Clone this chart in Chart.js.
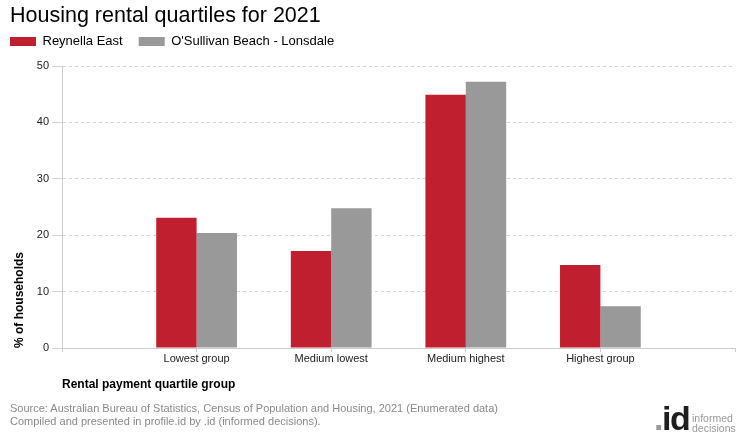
<!DOCTYPE html>
<html>
<head>
<meta charset="utf-8">
<script src="https://cdn.jsdelivr.net/npm/chart.js@4.4.1/dist/chart.umd.min.js"></script>
<style>
  body { margin: 0; background: #fff; font-family: Arial, "Liberation Sans", sans-serif; }
  #wrap { position: relative; width: 740px; height: 440px; }
  #title { position: absolute; left: 10px; top: 2px; font-size: 21.5px; line-height: 26px; color: #000; }
  #source { position: absolute; left: 10px; top: 402px; font-size: 11px; line-height: 13px; color: #8a8a8a; }
  #logo { position: absolute; left: 654px; top: 401px; font-size: 34px; line-height: 34px; font-weight: bold; color: #1e1e1e; letter-spacing: -1.5px; }
  #logo .dot { color: #999; }
  #logo .txt { position: absolute; left: 38px; top: 12px; font-size: 10.5px; line-height: 10px; font-weight: normal; letter-spacing: 0; color: #999; }
</style>
</head>
<body>
<div id="wrap">
  <canvas id="chart" width="740" height="440"></canvas>
  <div id="title">Housing rental quartiles for 2021</div>
  <div id="source">Source: Australian Bureau of Statistics, Census of Population and Housing, 2021 (Enumerated data)<br>Compiled and presented in profile.id by .id (informed decisions).</div>
  <div id="logo"><span class="dot">.</span>id<div class="txt">informed<br>decisions</div></div>
</div>
<script>
const categories = ["Lowest group", "Medium lowest", "Medium highest", "Highest group"];
const reynellaEast = [23.1, 17.2, 44.9, 14.7];
const osullivanBeach = [20.4, 24.8, 47.2, 7.4];
const yTicks = [0, 10, 20, 30, 40, 50];

// empty slots at both ends so the groups sit like the original
const labels = [""].concat(categories, [""]);
const pad = arr => [null].concat(arr, [null]);

// a bit more room under the legend
const legendGap = {
    id: "legendGap",
    beforeInit(chart) {
        const fit = chart.legend.fit;
        chart.legend.fit = function () {
            fit.call(this);
            this.height += 8;
        };
    },
};

new Chart(document.getElementById("chart"), {
    type: "bar",
    data: {
        labels: labels,
        datasets: [
            {
                label: "Reynella East",
                data: pad(reynellaEast),
                backgroundColor: "#c01f2f",
                barPercentage: 1,
                categoryPercentage: 0.6,
            },
            {
                label: "O'Sullivan Beach - Lonsdale",
                data: pad(osullivanBeach),
                backgroundColor: "#999999",
                barPercentage: 1,
                categoryPercentage: 0.6,
            },
        ],
    },
    options: {
        responsive: false,
        animation: false,
        layout: { padding: { left: -6, right: 5, top: 19, bottom: 48 } },
        plugins: {
            legend: {
                align: "start",
                labels: {
                    boxWidth: 26,
                    boxHeight: 9,
                    color: "#000",
                    font: { family: "Arial, Liberation Sans", size: 13 },
                    padding: 16,
                },
            },
            tooltip: { enabled: false },
        },
        scales: {
            x: {
                offset: false,
                grid: { offset: false, drawOnChartArea: false, color: "#ccc", tickLength: 4 },
                border: { color: "#ccc", width: 1 },
                ticks: {
                    autoSkip: false,
                    maxRotation: 0,
                    color: "#222",
                    font: { family: "Arial, Liberation Sans", size: 11 },
                    padding: 0,
                },
                title: {
                    display: true,
                    text: "Rental payment quartile group",
                    align: "start",
                    color: "#000",
                    font: { family: "Arial, Liberation Sans", size: 12, weight: "bold" },
                    padding: { top: 0, bottom: 0 },
                },
                afterFit: s => { s.height = 44; },
            },
            y: {
                min: 0,
                max: 50,
                afterBuildTicks: s => { s.ticks = yTicks.map(v => ({ value: v })); },
                grid: { color: "#d4d4d4", tickLength: 10, tickBorderDash: [] },
                border: { color: "#ccc", dash: [3, 3] },
                ticks: {
                    color: "#222",
                    font: { family: "Arial, Liberation Sans", size: 11 },
                    padding: 3,
                },
                title: {
                    display: true,
                    text: "% of households",
                    align: "start",
                    color: "#000",
                    font: { family: "Arial, Liberation Sans", size: 12, weight: "bold" },
                    padding: { top: 18, bottom: 0 },
                },
                afterFit: s => { s.width = 68; },
            },
        },
    },
    plugins: [legendGap],
});
</script>
</body>
</html>
